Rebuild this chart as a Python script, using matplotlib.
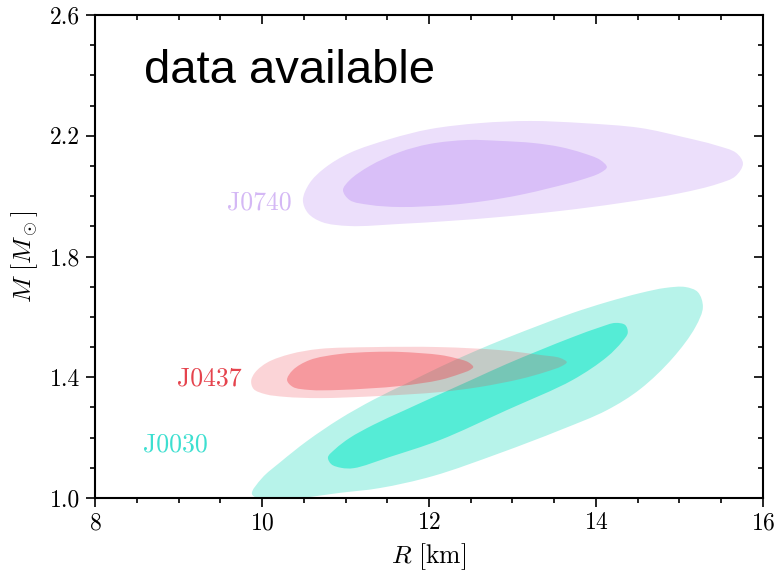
import numpy as np
import matplotlib
matplotlib.use("Agg")
import matplotlib.pyplot as plt
from matplotlib.path import Path
from matplotlib.patches import PathPatch

plt.rcParams['font.family'] = 'serif'
plt.rcParams['font.serif'] = ['cmr10', 'DejaVu Serif']
plt.rcParams['mathtext.fontset'] = 'cm'
plt.rcParams['axes.formatter.use_mathtext'] = True

# credible region outlines: radius R [km], mass M [Msun]
j0740_outer_R = [10.49, 10.55, 10.72, 11.05, 11.65, 12.25, 12.85, 13.57, 14.29, 15.01, 15.45, 15.67, 15.76,
                 15.68, 15.43, 15.04, 14.53, 13.84, 13.21, 12.61, 12.01, 11.53, 11.05, 10.75, 10.57]
j0740_outer_M = [1.987, 1.944, 1.914, 1.901, 1.908, 1.918, 1.931, 1.951, 1.977, 2.010, 2.040, 2.066, 2.108,
                 2.143, 2.169, 2.196, 2.226, 2.242, 2.249, 2.242, 2.222, 2.189, 2.143, 2.093, 2.043]
j0740_inner_R = [10.97, 11.05, 11.29, 11.65, 12.25, 12.67, 13.09, 13.45, 13.81, 14.05, 14.13,
                 14.05, 13.84, 13.57, 13.25, 12.85, 12.46, 12.01, 11.65, 11.29, 11.05]
j0740_inner_M = [2.020, 1.987, 1.971, 1.964, 1.971, 1.984, 2.004, 2.027, 2.053, 2.077, 2.096,
                 2.120, 2.143, 2.163, 2.176, 2.183, 2.186, 2.173, 2.146, 2.100, 2.053]

j0437_outer_R = [9.87, 9.90, 10.04, 10.28, 10.69, 11.41, 12.13, 12.61, 13.09, 13.39, 13.59, 13.65,
                 13.57, 13.33, 12.85, 12.13, 11.33, 10.69, 10.34, 10.07, 9.92]
j0437_outer_M = [1.388, 1.361, 1.344, 1.335, 1.331, 1.338, 1.351, 1.368, 1.394, 1.417, 1.437, 1.450,
                 1.464, 1.474, 1.490, 1.500, 1.500, 1.494, 1.477, 1.450, 1.417]
j0437_inner_R = [10.30, 10.37, 10.57, 10.93, 11.65, 12.13, 12.37, 12.49, 12.53,
                 12.47, 12.31, 12.13, 11.65, 11.33, 10.93, 10.57, 10.37]
j0437_inner_M = [1.391, 1.368, 1.358, 1.358, 1.371, 1.391, 1.411, 1.424, 1.434,
                 1.450, 1.464, 1.474, 1.484, 1.484, 1.477, 1.457, 1.424]

j0030_outer_R = [9.88, 10.04, 10.46, 10.93, 11.41, 12.05, 12.85, 13.57, 14.13, 14.53, 14.92, 15.19, 15.28,
                 15.22, 15.07, 14.83, 14.53, 14.13, 13.72, 13.33, 12.93, 12.53, 12.13, 11.74, 11.33,
                 10.93, 10.54, 10.22, 10.00]
j0030_outer_M = [1.013, 0.993, 1.000, 1.017, 1.033, 1.073, 1.149, 1.225, 1.291, 1.361, 1.464, 1.566, 1.633,
                 1.682, 1.699, 1.696, 1.679, 1.649, 1.613, 1.573, 1.530, 1.484, 1.434, 1.381, 1.325,
                 1.262, 1.189, 1.119, 1.066]
j0030_inner_R = [10.79, 10.83, 10.95, 11.10, 11.53, 12.13, 12.93, 13.72, 14.13, 14.31, 14.38, 14.35,
                 14.23, 14.05, 13.72, 13.33, 12.93, 12.53, 12.13, 11.71, 11.33, 11.05, 10.88]
j0030_inner_M = [1.135, 1.112, 1.100, 1.099, 1.136, 1.192, 1.291, 1.391, 1.467, 1.517, 1.547, 1.573,
                 1.580, 1.566, 1.533, 1.490, 1.444, 1.394, 1.344, 1.291, 1.242, 1.199, 1.163]

names = ['J0740', 'J0437', 'J0030']
label_R = [10.36, 9.75, 9.35]
label_M = [1.977, 1.397, 1.176]
label_colors = ['#d4b8f5', '#e5434d', '#3ddfd0']


def smooth_region(ax, xs, ys, **kw):
    # closed centripetal catmull-rom through the read points, as bezier path
    sx, sy = 668 / 8.0, 483 / 1.6  # work in roughly pixel units
    p = np.column_stack([np.asarray(xs) * sx, np.asarray(ys) * sy])
    n = len(p)
    verts = [p[0]]
    codes = [Path.MOVETO]
    for i in range(n):
        p0, p1, p2, p3 = p[i - 1], p[i], p[(i + 1) % n], p[(i + 2) % n]
        d1 = np.linalg.norm(p1 - p0) ** 0.5
        d2 = np.linalg.norm(p2 - p1) ** 0.5
        d3 = np.linalg.norm(p3 - p2) ** 0.5
        b1 = (d1**2 * p2 - d2**2 * p0 + (2 * d1**2 + 3 * d1 * d2 + d2**2) * p1) / (3 * d1 * (d1 + d2))
        b2 = (d3**2 * p1 - d2**2 * p3 + (2 * d3**2 + 3 * d3 * d2 + d2**2) * p2) / (3 * d3 * (d3 + d2))
        verts += [b1, b2, p2]
        codes += [Path.CURVE4] * 3
    verts = np.array(verts) / [sx, sy]
    ax.add_patch(PathPatch(Path(verts, codes), lw=0, **kw))


fig = plt.figure(figsize=(7.8, 5.71), dpi=100)
ax = fig.add_axes([0.1218, 0.1278, 0.8564, 0.8459])

smooth_region(ax, j0740_outer_R, j0740_outer_M, fc='#ecdffb')
smooth_region(ax, j0740_inner_R, j0740_inner_M, fc='#d9bff8')
smooth_region(ax, j0030_outer_R, j0030_outer_M, fc='#b7f3ea')
smooth_region(ax, j0030_inner_R, j0030_inner_M, fc='#55ecd6')
smooth_region(ax, j0437_outer_R, j0437_outer_M, fc='#f03c46', alpha=0.215)
smooth_region(ax, j0437_inner_R, j0437_inner_M, fc='#f03c46', alpha=0.39)

for nm, r, m, c in zip(names, label_R, label_M, label_colors):
    ax.text(r, m, nm, color=c, fontsize=18.5, ha='right', va='center')

ax.text(0.073, 0.859, 'data available', transform=ax.transAxes, fontsize=34,
        family='Liberation Sans', ha='left', va='baseline')

ax.set_xlim(8, 16)
ax.set_ylim(1.0, 2.6)
ax.set_xticks([8, 10, 12, 14, 16])
ax.set_yticks([1.0, 1.4, 1.8, 2.2, 2.6])
ax.set_xticks(np.arange(8, 16.01, 0.5), minor=True)
ax.set_yticks(np.arange(1.0, 2.601, 0.1), minor=True)
ax.set_yticklabels(['1.0', '1.4', '1.8', '2.2', '2.6'])
ax.tick_params(which='both', labelsize=17, width=1.2)
ax.tick_params(which='major', length=6.5)
ax.tick_params(which='minor', length=3.5)
ax.tick_params(axis='y', which='major', pad=4.5)
ax.tick_params(which='both', bottom=True, left=True, direction='out')
ax.tick_params(which='both', top=True, right=True, labeltop=False, labelright=False)
for t in ax.xaxis.get_major_ticks() + ax.xaxis.get_minor_ticks():
    t.tick2line.set_marker(3)  # top ticks point inwards
for t in ax.yaxis.get_major_ticks() + ax.yaxis.get_minor_ticks():
    t.tick2line.set_marker(0)  # right ticks point inwards
for s in ax.spines.values():
    s.set_linewidth(1.5)

ax.set_xlabel(r'$R\ [\mathrm{km}]$', fontsize=18.5, labelpad=5)
ax.set_ylabel(r'$M\ [M_\odot]$', fontsize=18.5, labelpad=7)

fig.savefig('out.png', dpi=100)
